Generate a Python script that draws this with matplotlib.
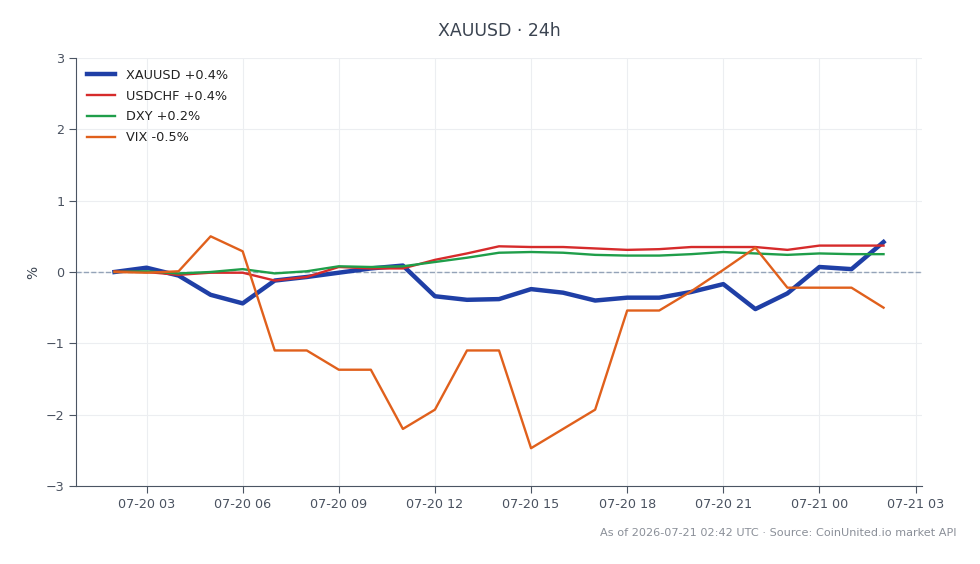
import pandas as pd
import matplotlib
matplotlib.use("Agg")
import matplotlib.pyplot as plt
import matplotlib.dates as mdates

# hourly samples, % change from the first point
times = pd.date_range("2026-07-20 02:00", "2026-07-21 02:00", freq="h")

xauusd = [0.00, 0.06, -0.05, -0.32, -0.44, -0.12, -0.07, -0.01, 0.05, 0.09,
          -0.34, -0.39, -0.38, -0.24, -0.29, -0.40, -0.36, -0.36, -0.28, -0.17,
          -0.52, -0.30, 0.07, 0.04, 0.42]
usdchf = [0.01, 0.00, -0.04, -0.01, -0.01, -0.12, -0.07, 0.07, 0.05, 0.05,
          0.17, 0.26, 0.36, 0.35, 0.35, 0.33, 0.31, 0.32, 0.35, 0.35,
          0.35, 0.31, 0.37, 0.37, 0.37]
dxy = [0.00, 0.01, -0.02, 0.00, 0.04, -0.02, 0.01, 0.08, 0.07, 0.08,
       0.14, 0.20, 0.27, 0.28, 0.27, 0.24, 0.23, 0.23, 0.25, 0.28,
       0.26, 0.24, 0.26, 0.25, 0.25]
vix = [0.00, -0.01, 0.01, 0.50, 0.29, -1.10, -1.10, -1.37, -1.37, -2.20,
       -1.93, -1.10, -1.10, -2.47, -2.20, -1.93, -0.54, -0.54, -0.27, 0.03,
       0.34, -0.22, -0.22, -0.22, -0.50]

series = [
    ("XAUUSD +0.4%", xauusd, "#1f3fa6", 3.2),
    ("USDCHF +0.4%", usdchf, "#d62b2b", 1.7),
    ("DXY +0.2%", dxy, "#1f9e4a", 1.7),
    ("VIX -0.5%", vix, "#e0601c", 1.7),
]

fig = plt.figure(figsize=(9.8, 5.64), dpi=100)
ax = fig.add_axes([0.0776, 0.1383, 0.8632, 0.7589])

ax.axhline(0, color="#94a3b8", lw=1, ls="--", zorder=1)
for label, vals, color, lw in series:
    ax.plot(times, vals, color=color, lw=lw, label=label, zorder=3)

ax.set_ylim(-3, 3)
ax.set_yticks(range(-3, 4))
ax.set_yticklabels(["\u22123", "\u22122", "\u22121", "0", "1", "2", "3"])
ax.xaxis.set_major_locator(mdates.HourLocator(byhour=range(0, 24, 3)))
ax.xaxis.set_major_formatter(mdates.DateFormatter("%m-%d %H"))

ax.grid(True, color="#eceef1", lw=0.8)
ax.set_axisbelow(True)
for s in ("top", "right"):
    ax.spines[s].set_visible(False)
for s in ("left", "bottom"):
    ax.spines[s].set_color("#4b5563")
ax.tick_params(colors="#4b5563", labelsize=9.2, length=5, labelcolor="#4a5260")
ax.set_ylabel("%", color="#3b4451", fontsize=10)

ax.set_title("XAUUSD \u00b7 24h", color="#3b4451", fontsize=12.5, pad=16)
ax.legend(loc="upper left", frameon=False, fontsize=9.3, handlelength=2.2,
          labelspacing=0.6, borderaxespad=0.45, labelcolor="#222222")

fig.text(0.976, 0.055, "As of 2026-07-21 02:42 UTC \u00b7 Source: CoinUnited.io market API",
         ha="right", va="center", fontsize=8.1, color="#8a8f98")

fig.savefig("out.png", dpi=100)
